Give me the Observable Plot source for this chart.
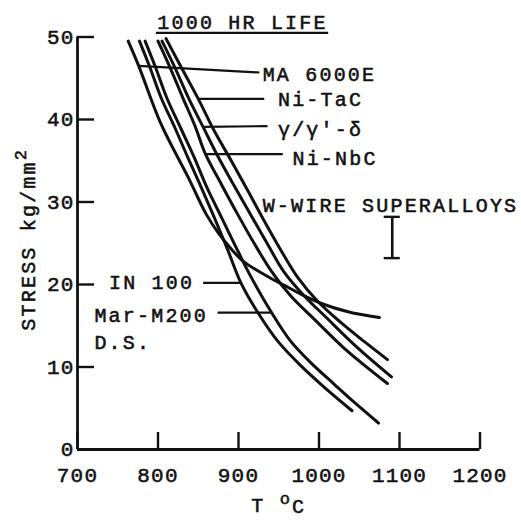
<!DOCTYPE html>
<html>
<head>
<meta charset="utf-8">
<script src="https://cdn.jsdelivr.net/npm/d3@7"></script>
<script src="https://cdn.jsdelivr.net/npm/@observablehq/plot@0.6"></script>
<style>
  html, body { margin: 0; padding: 0; background: #fff; }
  #chart svg text { letter-spacing: 2.2px; stroke: #111; stroke-width: 0.55px; }
  #chart g[aria-label="x-axis tick label"] text,
  #chart g[aria-label="y-axis tick label"] text { letter-spacing: 1.2px; }
</style>
</head>
<body>
<div id="chart"></div>
<script>
// ---- data ----
const xTicks = [700, 800, 900, 1000, 1100, 1200];
const yTicks = [0, 10, 20, 30, 40, 50];

const maT  = [763, 776, 804, 838, 860, 876, 891, 906, 934, 957, 978, 1003, 1036, 1075];
const maS  = [49.5, 46.5, 39.4, 32.9, 28.5, 26.1, 24.3, 22.8, 21.1, 19.9, 18.8, 17.7, 16.7, 16.0];

const in100T = [777, 790, 804, 821, 837, 854, 870, 887, 903, 924, 949, 978, 1007, 1041];
const in100S = [49.5, 46.3, 42.6, 39.0, 35.4, 31.7, 28.1, 24.1, 20.2, 16.6, 13.1, 10.1, 7.5, 4.7];

const marT = [784, 797, 811, 828, 845, 861, 879, 895, 914, 941, 965, 990, 1019, 1044, 1074];
const marS = [49.5, 46.3, 42.6, 39.0, 35.4, 31.7, 28.1, 24.9, 21.2, 16.6, 13.1, 10.5, 7.9, 5.7, 3.2];

const taT = [810, 829, 850, 870, 891, 912, 932, 953, 974, 998, 1027, 1056, 1085];
const taS = [49.8, 46.3, 42.5, 38.6, 35.0, 31.3, 27.7, 24.1, 20.8, 18.0, 15.4, 13.1, 10.9];

const gdT = [805, 821, 838, 856, 874, 895, 916, 936, 956, 980, 1009, 1046, 1090];
const gdS = [49.5, 46.3, 42.6, 39.1, 35.6, 31.9, 28.3, 24.9, 21.6, 18.8, 16.0, 12.5, 8.8];

const nbT = [800, 815, 831, 846, 859, 879, 899, 920, 941, 965, 994, 1031, 1085];
const nbS = [49.5, 46.3, 42.6, 39.2, 35.8, 32.1, 28.5, 24.9, 21.6, 18.6, 15.8, 12.3, 8.0];

// W-wire superalloys scatter band
const wireT = 1091;
const wireS = [23.2, 28.2];

// labels and leader lines
const labelText = ["MA 6000E", "Ni-TaC", "γ/γ'-δ", "Ni-NbC", "W-WIRE SUPERALLOYS", "IN 100", "Mar-M200", "D.S."];
const labelT    = [930, 949, 949, 967, 930, 845, 721, 721];
const labelS    = [45.5, 42.4, 38.8, 35.3, 29.6, 20.2, 16.2, 13.0];
const labelAnchor = ["start", "start", "start", "start", "start", "end", "start", "start"];

const leaderT1 = [776, 850, 856, 859, 856, 874];
const leaderS1 = [46.5, 42.5, 39.1, 35.8, 20.2, 16.6];
const leaderT2 = [926, 932, 936, 955, 903, 940];
const leaderS2 = [45.7, 42.5, 39.2, 35.8, 20.2, 16.6];

const title = "1000 HR LIFE";
const titleT = 905;
const underlineS = 50.5, underlineT1 = 798, underlineT2 = 1012;

// ---- build tables ----
const seriesList = [
  ["MA 6000E", maT, maS], ["IN 100", in100T, in100S], ["Mar-M200 D.S.", marT, marS],
  ["Ni-TaC", taT, taS], ["γ/γ'-δ", gdT, gdS], ["Ni-NbC", nbT, nbS]
];
const rows = seriesList.flatMap(([name, T, S]) => T.map((t, i) => ({name, T: t, S: S[i]})));
const labels = labelText.map((text, i) => ({text, T: labelT[i], S: labelS[i], anchor: labelAnchor[i]}));
const leaders = leaderT1.map((t, i) => ({T1: t, S1: leaderS1[i], T2: leaderT2[i], S2: leaderS2[i]}));

const ink = "#111";
const capHalf = 10;

const chart = Plot.plot({
  width: 521,
  height: 529,
  marginLeft: 77,
  marginRight: 41.5,
  marginTop: 36.5,
  marginBottom: 80,
  style: {fontFamily: "'Liberation Mono', 'Courier New', monospace", fontSize: "20px", background: "#fff", color: ink},
  x: {domain: [700, 1200], label: null},
  y: {domain: [0, 50], label: null},
  marks: [
    // axes lines
    Plot.ruleX([700], {y1: 0, y2: 50, stroke: ink, strokeWidth: 2.8}),
    Plot.ruleY([0], {x1: 700, x2: 1200, stroke: ink, strokeWidth: 2.8}),
    Plot.axisX({ticks: xTicks, tickSize: -17, tickFormat: () => "", stroke: ink, strokeWidth: 2.4}),
    Plot.axisX({ticks: xTicks, tickSize: 0, tickPadding: 18, tickFormat: d => String(d), fontSize: 21, fill: ink}),
    Plot.axisY({ticks: yTicks, tickSize: -17, tickFormat: () => "", stroke: ink, strokeWidth: 2.4}),
    Plot.axisY({ticks: yTicks, tickSize: 0, tickPadding: 3, tickFormat: d => String(d), fontSize: 21, fill: ink}),
    // curves
    Plot.line(rows, {x: "T", y: "S", z: "name", curve: "catmull-rom", stroke: ink, strokeWidth: 3, strokeLinecap: "round"}),
    // leaders
    Plot.link(leaders, {x1: "T1", y1: "S1", x2: "T2", y2: "S2", stroke: ink, strokeWidth: 2.2}),
    // labels
    Plot.text(labels.filter(d => d.anchor === "start"), {x: "T", y: "S", text: "text", textAnchor: "start", fill: ink, fontSize: 20}),
    Plot.text(labels.filter(d => d.anchor === "end"), {x: "T", y: "S", text: "text", textAnchor: "end", fill: ink, fontSize: 20}),
    // W-wire band
    Plot.ruleX([wireT], {y1: wireS[0], y2: wireS[1], stroke: ink, strokeWidth: 2.6}),
    Plot.ruleY(wireS, {y: d => d, x1: wireT - capHalf, x2: wireT + capHalf, stroke: ink, strokeWidth: 2.4}),
    // title + underline
    Plot.text([title], {x: titleT, frameAnchor: "top", dy: -22, fill: ink, fontSize: 20}),
    Plot.ruleY([underlineS], {x1: underlineT1, x2: underlineT2, stroke: ink, strokeWidth: 2.4}),
    // axis titles
    Plot.text(["STRESS kg/mm"], {frameAnchor: "left", textAnchor: "middle", dx: -49, dy: -4, rotate: -90, fill: ink, fontSize: 20}),
    Plot.text(["T "], {frameAnchor: "bottom", textAnchor: "middle", dy: 62, fill: ink, fontSize: 20})
  ]
});

// superscripts in the axis titles
const NS = "http://www.w3.org/2000/svg";
chart.querySelectorAll("text").forEach(t => {
  if (t.textContent === "STRESS kg/mm") {
    const s = document.createElementNS(NS, "tspan");
    s.setAttribute("dy", "-0.55em");
    s.setAttribute("font-size", "17");
    s.textContent = "2";
    t.appendChild(s);
  } else if (t.textContent === "T ") {
    const o = document.createElementNS(NS, "tspan");
    o.setAttribute("dy", "-0.45em");
    o.setAttribute("font-size", "17");
    o.textContent = "o";
    const c = document.createElementNS(NS, "tspan");
    c.setAttribute("dy", "0.45em");
    c.setAttribute("font-size", "20");
    c.textContent = "C";
    t.appendChild(o);
    t.appendChild(c);
  }
});

document.getElementById("chart").appendChild(chart);
</script>
</body>
</html>
